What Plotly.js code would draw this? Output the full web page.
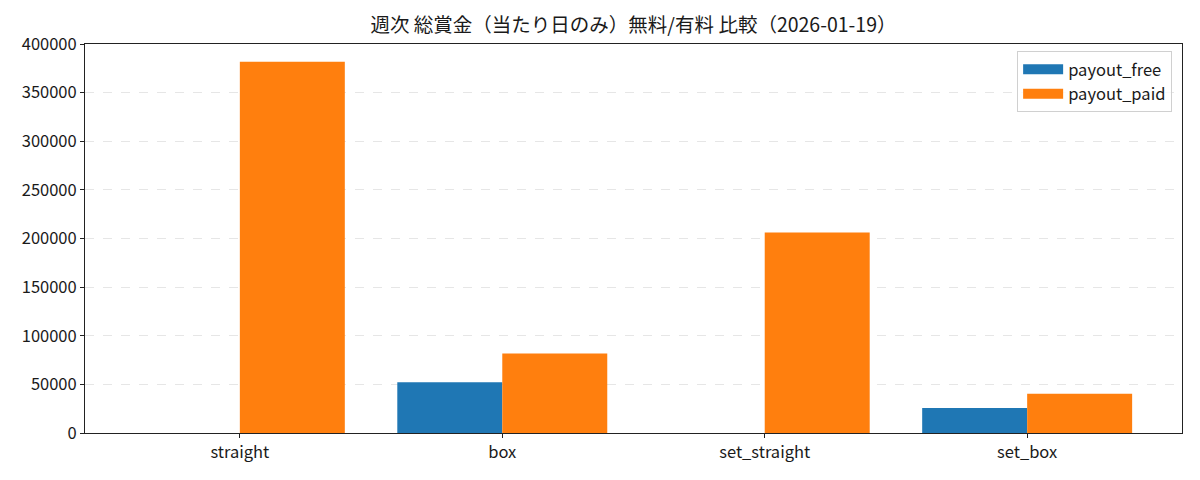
<!DOCTYPE html>
<html>
<head>
<meta charset="utf-8">
<script src="https://cdn.plot.ly/plotly-3.0.1.min.js"></script>
<style>html,body{margin:0;padding:0;background:#fff;}#chart{width:1200px;height:480px;}</style>
</head>
<body>
<div id="chart"></div>
<script>
const categories = ["straight", "box", "set_straight", "set_box"];
const payoutFree = [0, 52200, 0, 25700];
const payoutPaid = [381700, 81700, 206200, 40400];
const yTicks = [0, 50000, 100000, 150000, 200000, 250000, 300000, 350000, 400000];
const titleText = "週次 総賞金（当たり日のみ）無料/有料 比較（2026-01-19）";

const FONT = "Noto Sans CJK JP, Noto Sans, DejaVu Sans, sans-serif";

const data = [
  {type: "bar", name: "payout_free", x: categories, y: payoutFree,
   marker: {color: "#1f77b4", line: {width: 0}}, showlegend: false, hoverinfo: "x+y"},
  {type: "bar", name: "payout_paid", x: categories, y: payoutPaid,
   marker: {color: "#ff7f0e", line: {width: 0}}, showlegend: false, hoverinfo: "x+y"},
  {type: "scatter", mode: "lines", name: "payout_free", x: [null], y: [null],
   line: {color: "#1f77b4", width: 12}, hoverinfo: "skip"},
  {type: "scatter", mode: "lines", name: "payout_paid", x: [null], y: [null],
   line: {color: "#ff7f0e", width: 12}, hoverinfo: "skip"}
];

const layout = {
  width: 1200, height: 480,
  margin: {l: 85, r: 18, t: 44, b: 47},
  paper_bgcolor: "#fff", plot_bgcolor: "#fff",
  font: {family: FONT, size: 16.5, color: "#1a1a1a"},
  title: {text: titleText, xref: "paper", x: 0.5, xanchor: "center", y: 0.948, yanchor: "middle",
          font: {family: FONT, size: 19.5, color: "#1a1a1a"}},
  barmode: "group", bargap: 0.2, bargroupgap: 0,
  xaxis: {type: "category", range: [-0.59, 3.59], showgrid: false, zeroline: false,
          showline: true, mirror: true, linecolor: "#222", linewidth: 1,
          ticks: "outside", ticklen: 4, tickcolor: "#222",
          tickfont: {family: FONT, size: 16.5, color: "#1a1a1a"}, fixedrange: true},
  yaxis: {range: [0, 400000], tickvals: yTicks, ticktext: yTicks.map(String),
          showgrid: true, gridcolor: "#e6e6e6", griddash: "dash", gridwidth: 1,
          zeroline: false, showline: true, mirror: true, linecolor: "#222", linewidth: 1,
          ticks: "outside", ticklen: 4, tickcolor: "#222",
          tickfont: {family: FONT, size: 16.5, color: "#1a1a1a"}, fixedrange: true},
  legend: {x: 0.991, xanchor: "right", y: 0.982, yanchor: "top",
           bgcolor: "rgba(255,255,255,0.8)", bordercolor: "#d0d0d0", borderwidth: 1,
           font: {family: FONT, size: 16.5, color: "#1a1a1a"}, itemwidth: 40,
           tracegroupgap: 2}
};

Plotly.newPlot("chart", data, layout, {displayModeBar: false, staticPlot: true});
</script>
</body>
</html>
